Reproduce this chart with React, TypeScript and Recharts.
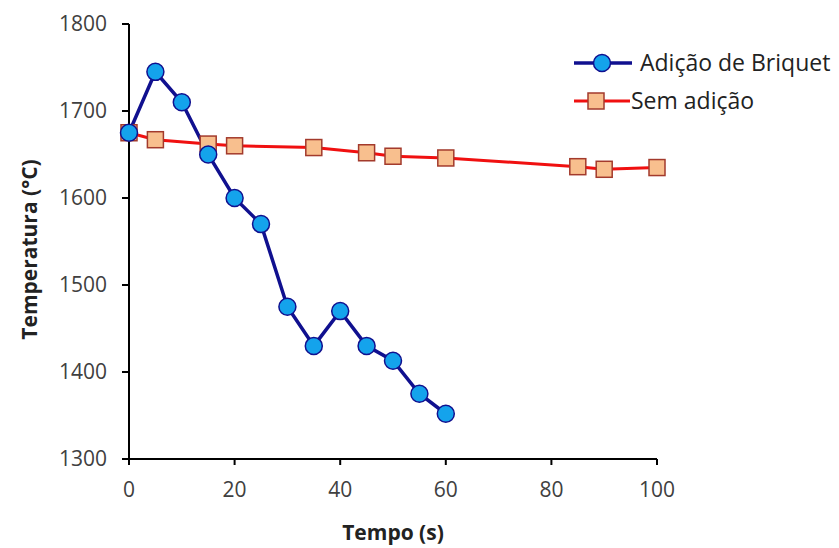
import { LineChart, Line, XAxis, YAxis } from 'recharts'

// Temperatura do banho vs tempo — com e sem adição de briquete
const tempoBriquet = [0, 5, 10, 15, 20, 25, 30, 35, 40, 45, 50, 55, 60]
const tempBriquet = [1675, 1745, 1710, 1650, 1600, 1570, 1475, 1430, 1470, 1430, 1413, 1375, 1352]

const tempoSem = [0, 5, 15, 20, 35, 45, 50, 60, 85, 90, 100]
const tempSem = [1675, 1667, 1662, 1660, 1658, 1652, 1648, 1646, 1636, 1633, 1635]

const xTicks = [0, 20, 40, 60, 80, 100]
const yTicks = [1300, 1400, 1500, 1600, 1700, 1800]

const briquetData = tempoBriquet.map((t, i) => ({ t, v: tempBriquet[i] }))
const semData = tempoSem.map((t, i) => ({ t, v: tempSem[i] }))

const FONT = '"Open Sans", "Noto Sans", sans-serif'
const BLUE_LINE = '#10108f'
const BLUE_FILL = '#14a3ec'
const RED_LINE = '#f01010'
const PEACH = '#f8bf8e'
const PEACH_EDGE = '#a33a2c'

function SquareDot(props: any) {
  const { cx, cy } = props
  if (cx == null || cy == null) return null
  return <rect x={cx - 8} y={cy - 8} width={16} height={16} fill={PEACH} stroke={PEACH_EDGE} strokeWidth={1.5} />
}

// legend drawn by hand, Excel style (marker sits on a short line)
function LegendBox() {
  return (
    <svg width={270} height={80} style={{ position: 'absolute', left: 570, top: 40, fontFamily: FONT }}>
      <line x1={4} y1={23} x2={62} y2={23} stroke={BLUE_LINE} strokeWidth={3.5} />
      <circle cx={32} cy={23} r={8.5} fill={BLUE_FILL} stroke={BLUE_LINE} strokeWidth={1.5} />
      <text x={70} y={31} fontSize={23} fill="#222">Adição de Briquet</text>
      <line x1={4} y1={61} x2={60} y2={61} stroke={RED_LINE} strokeWidth={3} />
      <rect x={18} y={53} width={16} height={16} fill={PEACH} stroke={PEACH_EDGE} strokeWidth={1.5} />
      <text x={61} y={69} fontSize={23} fill="#222">Sem adição</text>
    </svg>
  )
}

export default function App() {
  return (
    <div style={{ position: 'absolute', left: 0, top: 0, width: 839, height: 548, background: '#fff' }}>
      <LineChart width={839} height={548} margin={{ top: 24, right: 182, bottom: 29, left: 10 }}>
        <XAxis
          type="number" dataKey="t" domain={[0, 100]} ticks={xTicks}
          allowDuplicatedCategory={false}
          height={60} tickSize={6} tickMargin={17}
          stroke="#000" strokeWidth={2}
          tick={{ fontSize: 21, fill: '#404040', fontFamily: FONT }}
          label={{ value: 'Tempo (s)', position: 'insideBottom', offset: -21, fontSize: 21, fontWeight: 700, fill: '#222', fontFamily: FONT }}
        />
        <YAxis
          type="number" dataKey="v" domain={[1300, 1800]} ticks={yTicks}
          width={119} tickSize={7} tickMargin={15}
          stroke="#000" strokeWidth={2}
          tick={{ fontSize: 21, fill: '#404040', fontFamily: FONT }}
          label={{ value: 'Temperatura (°C)', angle: -90, position: 'insideLeft', offset: 20, dy: 8, fontSize: 21, fontWeight: 700, fill: '#222', fontFamily: FONT, style: { textAnchor: 'middle' } }}
        />
        <Line
          data={semData} dataKey="v" name="Sem adição"
          stroke={RED_LINE} strokeWidth={3}
          dot={<SquareDot />} activeDot={false}
          isAnimationActive={false}
        />
        <Line
          data={briquetData} dataKey="v" name="Adição de Briquet"
          stroke={BLUE_LINE} strokeWidth={3.5}
          dot={{ r: 8.5, fill: BLUE_FILL, stroke: BLUE_LINE, strokeWidth: 1.5 }}
          activeDot={false}
          isAnimationActive={false}
        />
      </LineChart>
      <LegendBox />
    </div>
  )
}
